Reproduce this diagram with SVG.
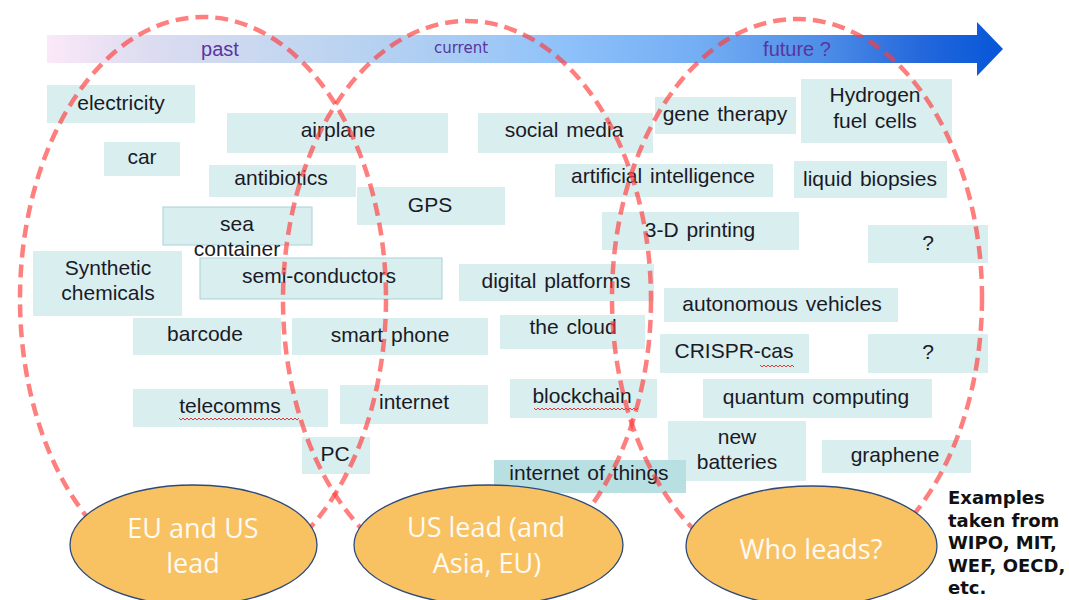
<svg xmlns="http://www.w3.org/2000/svg" width="1069" height="600" viewBox="0 0 1069 600">
<style>
.b{fill:#d9eeef}
.bb{fill:#d9eeef;stroke:#a9d2d9;stroke-width:1}
.t{font-family:"Liberation Sans",Arial,sans-serif;font-size:21px;fill:#1a1a26;text-anchor:middle;word-spacing:2px}
.era{font-family:"Liberation Sans",Arial,sans-serif;fill:#5b34a0;text-anchor:middle}
.dash{fill:none;stroke:#ff3b3b;stroke-opacity:0.66;stroke-width:4.5;stroke-dasharray:13 7}
.lead{fill:#f8c263;stroke:#2e4a7a;stroke-width:1.3}
.lt{font-family:"Open Sans","Noto Sans",sans-serif;font-size:27px;fill:#fffaf2;text-anchor:middle}
.ex{font-family:"DejaVu Sans",Verdana,sans-serif;font-weight:bold;font-size:18px;fill:#111}
.sq{fill:none;stroke:#e03a3a;stroke-width:1}
</style>
<defs>
<linearGradient id="arrowGrad" gradientUnits="userSpaceOnUse" x1="47" y1="0" x2="1003" y2="0">
<stop offset="0" stop-color="#fbe8f8"/>
<stop offset="0.108" stop-color="#dcdcf0"/>
<stop offset="0.265" stop-color="#c2d6f0"/>
<stop offset="0.421" stop-color="#a9ccf3"/>
<stop offset="0.536" stop-color="#8fc2fa"/>
<stop offset="0.683" stop-color="#73adf3"/>
<stop offset="0.808" stop-color="#4f8fe8"/>
<stop offset="0.913" stop-color="#2468dc"/>
<stop offset="1" stop-color="#0656d8"/>
</linearGradient>
</defs>
<rect width="1069" height="600" fill="#ffffff"/>

<g id="timeline">
<polygon points="47,35 977,35 977,22 1003,49 977,76 977,63 47,63" fill="url(#arrowGrad)"/>
<text class="era" x="220" y="56" font-size="20">past</text>
<text class="era" x="461" y="53" font-size="15" style="font-family:'DejaVu Sans',Verdana,sans-serif">current</text>
<text class="era" x="797" y="56" font-size="20" fill="#4b30a0">future ?</text>
</g>

<g id="boxes">
<g id="n-electricity"><rect class="b" x="47" y="85" width="148" height="38"/><text class="t" x="121" y="110">electricity</text></g>
<g id="n-airplane"><rect class="b" x="227" y="113" width="221" height="40"/><text class="t" x="338" y="137">airplane</text></g>
<g id="n-social-media"><rect class="b" x="478" y="113" width="175" height="40"/><text class="t" x="564" y="137">social media</text></g>
<g id="n-car"><rect class="b" x="104" y="142" width="76" height="34"/><text class="t" x="142" y="164">car</text></g>
<g id="n-gene-therapy"><rect class="b" x="655" y="97" width="141" height="37"/><text class="t" x="725" y="121">gene therapy</text></g>
<g id="n-hydrogen"><rect class="b" x="801" y="79" width="151" height="64"/><text class="t" x="875" y="102">Hydrogen</text><text class="t" x="875" y="128">fuel cells</text></g>
<g id="n-antibiotics"><rect class="b" x="209" y="165" width="147" height="32"/><text class="t" x="281" y="185">antibiotics</text></g>
<g id="n-ai"><rect class="b" x="555" y="164" width="218" height="33"/><text class="t" x="663" y="183">artificial intelligence</text></g>
<g id="n-liquid-biopsies"><rect class="b" x="794" y="161" width="153" height="37"/><text class="t" x="870" y="186">liquid biopsies</text></g>
<g id="n-gps"><rect class="b" x="357" y="187" width="148" height="38"/><text class="t" x="430" y="212">GPS</text></g>
<g id="n-sea-container"><rect class="bb" x="163" y="207" width="149" height="38"/><text class="t" x="237" y="231">sea</text><text class="t" x="237" y="256">container</text></g>
<g id="n-3d-printing"><rect class="b" x="602" y="212" width="197" height="38"/><text class="t" x="700" y="237">3-D printing</text></g>
<g id="n-q1"><rect class="b" x="868" y="225" width="120" height="38"/><text class="t" x="928" y="250">?</text></g>
<g id="n-synthetic"><rect class="b" x="33" y="251" width="149" height="65"/><text class="t" x="108" y="275">Synthetic</text><text class="t" x="108" y="300">chemicals</text></g>
<g id="n-semiconductors"><rect class="bb" x="200" y="258" width="242" height="41"/><text class="t" x="319" y="283">semi-conductors</text></g>
<g id="n-digital-platforms"><rect class="b" x="459" y="264" width="195" height="37"/><text class="t" x="556" y="288">digital platforms</text></g>
<g id="n-autonomous"><rect class="b" x="664" y="288" width="234" height="34"/><text class="t" x="782" y="311">autonomous vehicles</text></g>
<g id="n-barcode"><rect class="b" x="133" y="318" width="148" height="37"/><text class="t" x="205" y="341">barcode</text></g>
<g id="n-smart-phone"><rect class="b" x="292" y="318" width="196" height="37"/><text class="t" x="390" y="342">smart phone</text></g>
<g id="n-cloud"><rect class="b" x="500" y="315" width="145" height="34"/><text class="t" x="573" y="334">the cloud</text></g>
<g id="n-crispr"><rect class="b" x="660" y="334" width="149" height="39"/><text class="t" x="734" y="358">CRISPR-cas</text><path class="sq" d="M760 365 l2 2 l2 -2 l2 2 l2 -2 l2 2 l2 -2 l2 2 l2 -2 l2 2 l2 -2 l2 2 l2 -2 l2 2 l2 -2 l2 2 l2 -2 l2 2"/></g>
<g id="n-q2"><rect class="b" x="868" y="334" width="120" height="39"/><text class="t" x="928" y="359">?</text></g>
<g id="n-telecomms"><rect class="b" x="133" y="389" width="195" height="38"/><text class="t" x="230" y="413">telecomms</text><path class="sq" d="M179 418 l2 2 l2 -2 l2 2 l2 -2 l2 2 l2 -2 l2 2 l2 -2 l2 2 l2 -2 l2 2 l2 -2 l2 2 l2 -2 l2 2 l2 -2 l2 2 l2 -2 l2 2 l2 -2 l2 2 l2 -2 l2 2 l2 -2 l2 2 l2 -2 l2 2 l2 -2 l2 2 l2 -2 l2 2 l2 -2 l2 2 l2 -2 l2 2 l2 -2 l2 2 l2 -2 l2 2 l2 -2 l2 2 l2 -2 l2 2 l2 -2 l2 2 l2 -2 l2 2 l2 -2 l2 2 l2 -2 l2 2 l2 -2 l2 2 l2 -2 l2 2 l2 -2 l2 2 l2 -2 l2 2 l2 -2"/></g>
<g id="n-internet"><rect class="b" x="340" y="385" width="148" height="39"/><text class="t" x="414" y="409">internet</text></g>
<g id="n-blockchain"><rect class="b" x="510" y="379" width="147" height="39"/><text class="t" x="582" y="403">blockchain</text><path class="sq" d="M534 408 l2 2 l2 -2 l2 2 l2 -2 l2 2 l2 -2 l2 2 l2 -2 l2 2 l2 -2 l2 2 l2 -2 l2 2 l2 -2 l2 2 l2 -2 l2 2 l2 -2 l2 2 l2 -2 l2 2 l2 -2 l2 2 l2 -2 l2 2 l2 -2 l2 2 l2 -2 l2 2 l2 -2 l2 2 l2 -2 l2 2 l2 -2 l2 2 l2 -2 l2 2 l2 -2 l2 2 l2 -2 l2 2 l2 -2 l2 2 l2 -2 l2 2 l2 -2 l2 2 l2 -2 l2 2 l2 -2 l2 2 l2 -2"/></g>
<g id="n-quantum"><rect class="b" x="703" y="379" width="229" height="39"/><text class="t" x="816" y="404">quantum computing</text></g>
<g id="n-pc"><rect class="b" x="302" y="437" width="68" height="37"/><text class="t" x="335" y="461">PC</text></g>
<g id="n-batteries"><rect class="b" x="668" y="421" width="138" height="60"/><text class="t" x="737" y="444">new</text><text class="t" x="737" y="469">batteries</text></g>
<g id="n-graphene"><rect class="b" x="822" y="440" width="149" height="33"/><text class="t" x="895" y="462">graphene</text></g>
<g id="n-iot"><rect x="494" y="460" width="192" height="33" fill="#b8dfe2"/><text class="t" x="589" y="480">internet of things</text></g>
</g>

<g id="connectors">
<ellipse class="dash" cx="203" cy="299" rx="183" ry="282"/>
<ellipse class="dash" cx="467" cy="300" rx="184" ry="279"/>
<ellipse class="dash" cx="797" cy="298" rx="185" ry="279"/>
</g>

<g id="lead-eu-us"><ellipse class="lead" cx="193.5" cy="545" rx="123.5" ry="60"/><text class="lt" x="193" y="538">EU and US</text><text class="lt" x="193" y="573">lead</text></g>
<g id="lead-us-asia"><ellipse class="lead" cx="488.5" cy="545" rx="134.5" ry="60"/><text class="lt" x="486" y="537">US lead (and</text><text class="lt" x="487" y="573">Asia, EU)</text></g>
<g id="lead-who"><ellipse class="lead" cx="811.5" cy="546" rx="125.5" ry="60"/><text class="lt" x="811" y="559">Who leads?</text></g>

<g id="note">
<text class="ex" x="948" y="504">Examples</text>
<text class="ex" x="948" y="526.5">taken from</text>
<text class="ex" x="948" y="549">WIPO, MIT,</text>
<text class="ex" x="948" y="571.5">WEF, OECD,</text>
<text class="ex" x="948" y="594">etc.</text>
</g>
</svg>
